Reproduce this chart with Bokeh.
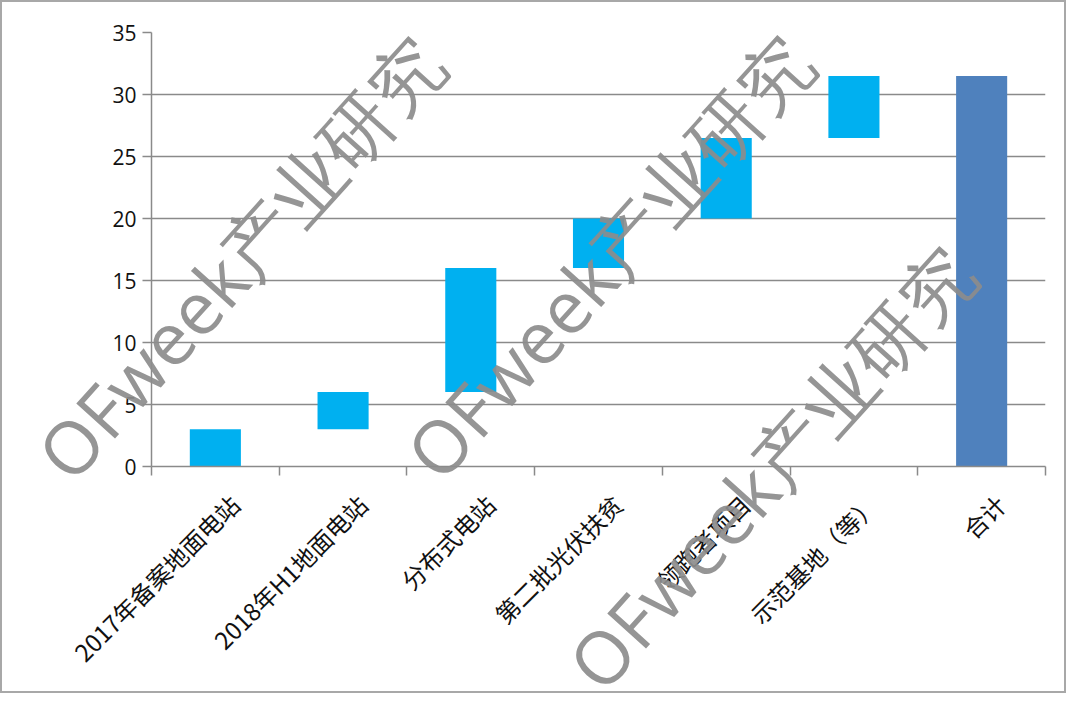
import math
from bokeh.plotting import figure
from bokeh.models import Range1d, FixedTicker, Label, GridBox, Column
from bokeh.embed import file_html
from bokeh.resources import INLINE

categories = ["2017年备案地面电站", "2018年H1地面电站", "分布式电站", "第二批光伏扶贫",
              "领跑者项目", "示范基地（等）", "合计"]
increments = [3, 3, 10, 4, 6.5, 5]
y_ticks = [0, 5, 10, 15, 20, 25, 30, 35]
watermark = "OFweek产业研究"

W, H = 1062, 689

# waterfall geometry from data
bottoms, tops = [], []
running = 0.0
for v in increments:
    bottoms.append(running)
    running += v
    tops.append(running)
total = running
xs = [i + 0.5 for i in range(len(categories))]
label_pos = [x + 0.15 for x in xs]   # rotated labels sit slightly right of centre, as in the original

p = figure(width=W, height=H, output_backend="svg", toolbar_location=None,
           x_range=Range1d(0, len(categories)), y_range=Range1d(0, 35),
           min_border_left=149, min_border_right=19, min_border_top=30, min_border_bottom=225)
p.outline_line_color = None
p.background_fill_color = "white"
p.border_fill_color = "white"

# step bars
p.vbar(x=xs[:-1], bottom=bottoms, top=tops, width=0.4, fill_color="#00B0F0", line_color=None)
# total bar
p.vbar(x=[xs[-1]], bottom=[0], top=[total], width=0.4, fill_color="#4F81BD", line_color=None)

grey = "#8a8a8a"
# y axis
p.yaxis.ticker = FixedTicker(ticks=y_ticks)
p.yaxis.axis_line_color = grey
p.yaxis.axis_line_width = 1.5
p.yaxis.major_tick_line_color = grey
p.yaxis.major_tick_line_width = 1.5
p.yaxis.major_tick_out = 9
p.yaxis.major_tick_in = 0
p.yaxis.minor_tick_line_color = None
p.yaxis.major_label_text_font = "Open Sans"
p.yaxis.major_label_text_font_size = "21px"
p.yaxis.major_label_text_color = "#111111"
p.yaxis.major_label_standoff = 6

p.ygrid.ticker = FixedTicker(ticks=y_ticks)
p.ygrid.grid_line_color = grey
p.ygrid.grid_line_width = 1.5
p.xgrid.grid_line_color = None

# x axis: labels near category centers, tick marks at category boundaries
p.xaxis.ticker = FixedTicker(ticks=label_pos, minor_ticks=list(range(len(categories) + 1)))
p.xaxis.major_label_overrides = {x: c for x, c in zip(label_pos, categories)}
p.xaxis.major_label_orientation = math.pi / 4
p.xaxis.major_tick_line_color = None
p.xaxis.minor_tick_line_color = grey
p.xaxis.minor_tick_line_width = 1.5
p.xaxis.minor_tick_out = 9
p.xaxis.minor_tick_in = 0
p.xaxis.axis_line_color = grey
p.xaxis.axis_line_width = 1.5
p.xaxis.major_label_text_font = "Noto Sans CJK SC"
p.xaxis.major_label_text_font_size = "24px"
p.xaxis.major_label_text_color = "#111111"
p.xaxis.major_label_standoff = 24

# transparent overlay figure for the watermarks (not clipped by the chart frame)
w = figure(width=W, height=H, output_backend="svg", toolbar_location=None,
           x_range=Range1d(0, W), y_range=Range1d(H, 0), min_border=0)
w.axis.visible = False
w.grid.visible = False
w.outline_line_color = None
w.background_fill_alpha = 0
w.border_fill_alpha = 0
for cx, cy in [(237, 255), (606, 254), (768, 465)]:
    w.add_layout(Label(x=cx, y=cy, text=watermark, angle=48, angle_units="deg",
                       text_align="center", text_baseline="middle",
                       text_font="Open Sans", text_font_size="73px",
                       text_color="#8c8c8c", text_alpha=0.92))

layout = GridBox(children=[(Column(children=[p]), 0, 0), (Column(children=[w]), 0, 0)],
                 styles={"border": "2px solid #a8a8a8"})

open("out.html", "w").write(file_html(layout, INLINE))
